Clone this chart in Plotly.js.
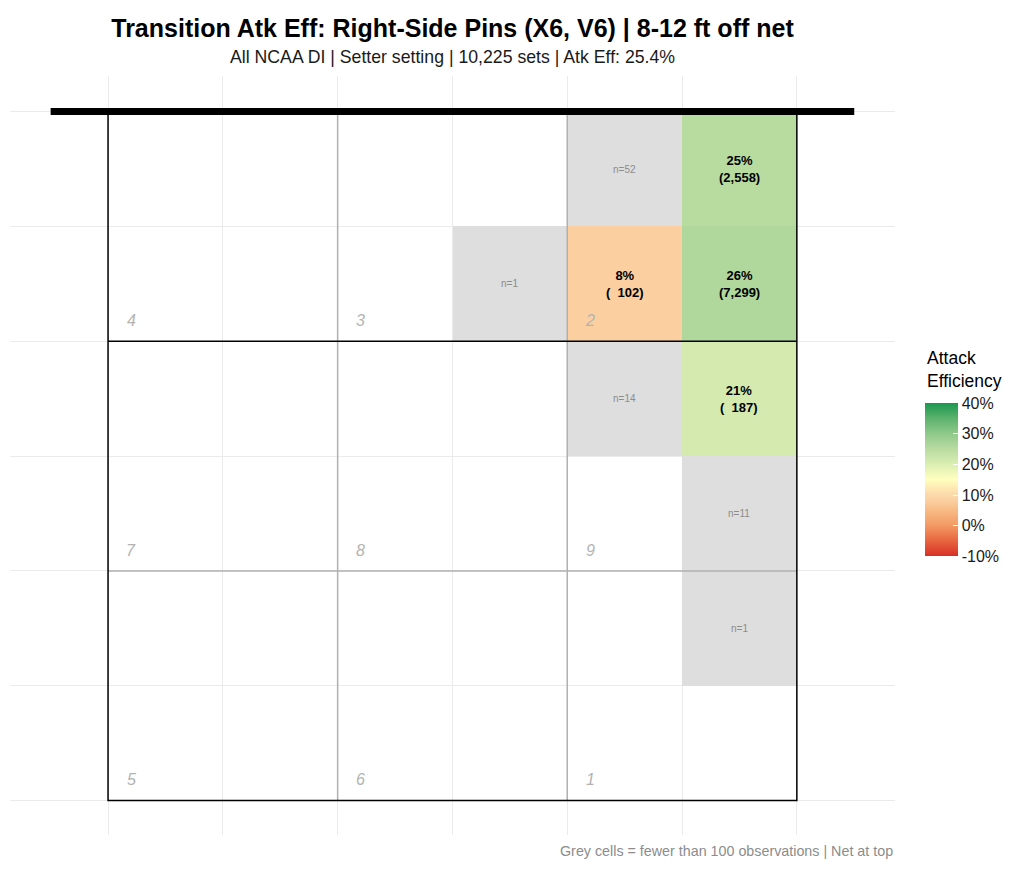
<!DOCTYPE html>
<html>
<head>
<meta charset="utf-8">
<script src="https://cdn.plot.ly/plotly-3.0.1.min.js"></script>
<style>
  html, body { margin: 0; padding: 0; background: #fff; }
  #myPlot { width: 1024px; height: 875px; }
</style>
</head>
<body>
<div id="myPlot"></div>
<script>
// cells: column 0-5 left to right, row 0-5 counted from the net
let cellCol = [4, 5, 3, 4, 5, 4, 5, 5, 5];
let cellRow = [0, 0, 1, 1, 1, 2, 2, 3, 4];
let cellEff = [null, 25, null, 8, 26, null, 21, null, null];
let cellN = [52, 2558, 1, 102, 7299, 14, 187, 11, 1];
let minN = 100;

// zone numbers (3x3 over the 6x6 grid)
let zoneName = ['4', '3', '2', '7', '8', '9', '5', '6', '1'];
let zoneCol = [0, 1, 2, 0, 1, 2, 0, 1, 2];
let zoneRow = [0, 0, 0, 1, 1, 1, 2, 2, 2];

let effTicks = [-10, 0, 10, 20, 30, 40];

let font = 'Liberation Sans, Arial, sans-serif';
let centers = [0.5, 1.5, 2.5, 3.5, 4.5, 5.5];
let zColor = [], zGrey = [];
for (let i = 0; i < 6; i++) {
  zColor.push([null, null, null, null, null, null]);
  zGrey.push([null, null, null, null, null, null]);
}

let annotations = [];
for (let k = 0; k < cellN.length; k++) {
  let yi = 5 - cellRow[k];
  let xc = cellCol[k] + 0.5, yc = yi + 0.5;
  if (cellN[k] >= minN) {
    zColor[yi][cellCol[k]] = cellEff[k];
    let nTxt = cellN[k].toLocaleString('en-US');
    while (nTxt.length < 5) nTxt = '\u00a0' + nTxt;
    annotations.push({
      x: xc, y: yc, xref: 'x', yref: 'y', showarrow: false,
      text: '<b>' + cellEff[k] + '%<br>(' + nTxt + ')</b>',
      font: {size: 13, color: '#000', family: font}
    });
  } else {
    zGrey[yi][cellCol[k]] = 1;
    annotations.push({
      x: xc, y: yc, xref: 'x', yref: 'y', showarrow: false,
      text: 'n=' + cellN[k],
      font: {size: 10, color: '#8c8c8c', family: font}
    });
  }
}

for (let k = 0; k < zoneName.length; k++) {
  annotations.push({
    x: zoneCol[k] * 2 + 0.2, y: (2 - zoneRow[k]) * 2 + 0.18, xref: 'x', yref: 'y',
    showarrow: false, text: '<i>' + zoneName[k] + '</i>',
    font: {size: 16, color: '#b3b3b3', family: font}
  });
}

annotations.push({
  x: 0.5, y: 1.025, xref: 'paper', yref: 'paper', xanchor: 'center', yanchor: 'middle',
  showarrow: false,
  text: 'All NCAA DI | Setter setting | 10,225 sets | Atk Eff: 25.4%',
  font: {size: 17.7, color: '#1a1a1a', family: font}
});
annotations.push({
  x: 1, y: -0.021, xref: 'paper', yref: 'paper', xanchor: 'right', yanchor: 'middle',
  showarrow: false,
  text: 'Grey cells = fewer than 100 observations | Net at top',
  font: {size: 14.3, color: '#8c8c8c', family: font}
});
// colour bar title
annotations.push({
  x: 1.034, y: 0.583, xref: 'paper', yref: 'paper', xanchor: 'left', yanchor: 'bottom',
  align: 'left', showarrow: false,
  text: 'Attack<br>Efficiency',
  font: {size: 17.5, color: '#000', family: font}
});

let effScale = [
  [0, '#d73027'], [0.1, '#e8663f'], [0.2, '#f39a64'], [0.3, '#f8bb86'],
  [0.36, '#fbcf9f'], [0.4, '#fcd9aa'], [0.5, '#ffffbf'], [0.6, '#dbeeb3'],
  [0.7, '#b8dba0'], [0.8, '#8fc98a'], [0.9, '#5cb26d'], [1, '#1a9850']
];

let data1 = [
  {
    type: 'heatmap', x: centers, y: centers, z: zGrey,
    zmin: 0, zmax: 1, colorscale: [[0, '#dedede'], [1, '#dedede']],
    showscale: false, hoverinfo: 'skip'
  },
  {
    type: 'heatmap', x: centers, y: centers, z: zColor,
    zmin: -10, zmax: 40, colorscale: effScale, hoverinfo: 'skip',
    colorbar: {
      x: 1.034, xanchor: 'left', xpad: 0,
      y: 0.468, yanchor: 'middle', ypad: 0,
      len: 153, lenmode: 'pixels', thickness: 33,
      outlinewidth: 0,
      tickvals: effTicks, ticktext: effTicks.map(v => v + '%'),
      ticks: 'inside', ticklen: 5, tickcolor: '#fff',
      tickfont: {size: 16, color: '#1a1a1a', family: font}
    }
  }
];

let grey = '#b0b0b0';
let shapes = [
  {type: 'line', x0: 2, x1: 2, y0: 0, y1: 6, line: {color: grey, width: 1.5}},
  {type: 'line', x0: 4, x1: 4, y0: 0, y1: 6, line: {color: grey, width: 1.5}},
  {type: 'line', x0: 0, x1: 6, y0: 2, y1: 2, line: {color: grey, width: 1.5}},
  {type: 'line', x0: 0, x1: 6, y0: 4, y1: 4, line: {color: '#000', width: 1.5}},
  {type: 'rect', x0: 0, x1: 6, y0: 0, y1: 6, line: {color: '#000', width: 1.5}},
  {type: 'line', x0: -0.5, x1: 6.5, y0: 6, y1: 6, line: {color: '#000', width: 7}}
];

let layout = {
  width: 1024,
  height: 875,
  margin: {l: 10, r: 129, t: 76, b: 40},
  paper_bgcolor: '#fff',
  plot_bgcolor: '#fff',
  title: {
    text: '<b>Transition Atk Eff: Right-Side Pins (X6, V6) | 8-12 ft off net</b>',
    x: 0.5, xref: 'paper', xanchor: 'center',
    y: 0.968, yref: 'container', yanchor: 'middle',
    font: {size: 25, color: '#000', family: font}
  },
  xaxis: {
    range: [-0.854, 6.855], tickvals: [0, 1, 2, 3, 4, 5, 6], ticks: '',
    showticklabels: false, showgrid: true, gridcolor: '#ebebeb', gridwidth: 1,
    zeroline: false, showline: false, fixedrange: true
  },
  yaxis: {
    range: [-0.3, 6.31], tickvals: [0, 1, 2, 3, 4, 5, 6], ticks: '',
    showticklabels: false, showgrid: true, gridcolor: '#ebebeb', gridwidth: 1,
    zeroline: false, showline: false, fixedrange: true
  },
  shapes: shapes,
  annotations: annotations,
  showlegend: false
};

Plotly.newPlot('myPlot', data1, layout, {displayModeBar: false, staticPlot: true});
</script>
</body>
</html>
